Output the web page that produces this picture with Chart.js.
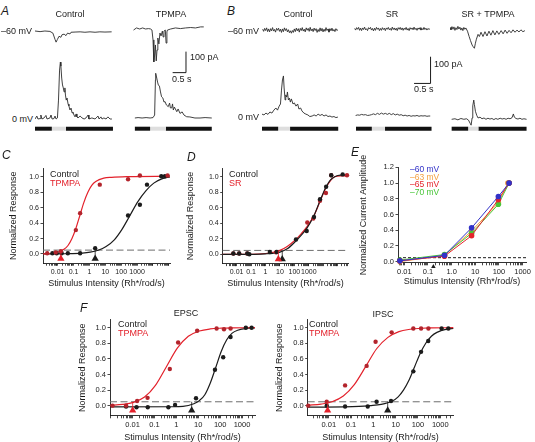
<!DOCTYPE html>
<html>
<head>
<meta charset="utf-8">
<title>Light responses and intensity-response curves</title>
<script src="https://cdn.jsdelivr.net/npm/chart.js@4.4.1/dist/chart.umd.min.js"></script>
<style>
  html, body { margin: 0; padding: 0; background: #fff; }
  body { position: relative; width: 535px; height: 442px; overflow: hidden;
         font-family: "Liberation Sans", Arial, Helvetica, sans-serif; color: #1b1b1b; }
  canvas { position: absolute; }
  .lbl { position: absolute; white-space: nowrap; font-size: 9px; line-height: 10px; }
  .mid { transform: translateX(-50%); }
  .letter { font-style: italic; font-size: 12px; line-height: 12px; }
  .red { color: #e3212b; }
  .leg { font-size: 8.5px; line-height: 8px; }
</style>
</head>
<body>
<canvas id="aCtrl"></canvas>
<canvas id="aTpmpa"></canvas>
<canvas id="bCtrl"></canvas>
<canvas id="bSr"></canvas>
<canvas id="bSrTp"></canvas>
<canvas id="cPlot"></canvas>
<canvas id="dPlot"></canvas>
<canvas id="ePlot"></canvas>
<canvas id="fEpsc"></canvas>
<canvas id="fIpsc"></canvas>

<div class="lbl letter" style="left:1px;top:5px">A</div>
<div class="lbl letter" style="left:227px;top:5px">B</div>
<div class="lbl mid" style="left:70px;top:9px">Control</div>
<div class="lbl mid" style="left:171px;top:9px">TPMPA</div>
<div class="lbl mid" style="left:298px;top:9px">Control</div>
<div class="lbl mid" style="left:392px;top:9px">SR</div>
<div class="lbl mid" style="left:488px;top:9px">SR + TPMPA</div>
<div class="lbl" style="left:1px;top:26px">–60 mV</div>
<div class="lbl" style="left:12px;top:114px">0 mV</div>
<div class="lbl" style="left:228px;top:26px">–60 mV</div>
<div class="lbl" style="left:238px;top:112px">0 mV</div>
<div class="lbl" style="left:190px;top:52px">100 pA</div>
<div class="lbl" style="left:172px;top:74px">0.5 s</div>
<div class="lbl" style="left:434px;top:59px">100 pA</div>
<div class="lbl" style="left:414px;top:84px">0.5 s</div>

<div class="lbl letter" style="left:2px;top:149px">C</div>
<div class="lbl" style="left:50px;top:169px">Control</div>
<div class="lbl red" style="left:50px;top:178px">TPMPA</div>
<div class="lbl letter" style="left:187px;top:151px">D</div>
<div class="lbl" style="left:229px;top:169px">Control</div>
<div class="lbl red" style="left:229px;top:178px">SR</div>
<div class="lbl letter" style="left:351px;top:146px">E</div>
<div class="lbl leg" style="left:410px;top:165px;color:#3232c8">–60 mV</div>
<div class="lbl leg" style="left:410px;top:172.5px;color:#f4a040">–63 mV</div>
<div class="lbl leg" style="left:410px;top:180px;color:#e5232b">–65 mV</div>
<div class="lbl leg" style="left:410px;top:187.5px;color:#48c538">–70 mV</div>

<div class="lbl letter" style="left:80px;top:302px">F</div>
<div class="lbl mid" style="left:186px;top:308px">EPSC</div>
<div class="lbl mid" style="left:383px;top:309px">IPSC</div>
<div class="lbl" style="left:118px;top:319px">Control</div>
<div class="lbl red" style="left:118px;top:328px">TPMPA</div>
<div class="lbl" style="left:309px;top:319px">Control</div>
<div class="lbl red" style="left:309px;top:328px">TPMPA</div>

<script>
// ---- A: light responses, time (s) vs baseline-subtracted current (pA)
const aCtrlHoldT = [0, 0.19, 0.37, 0.56, 0.67, 0.75, 0.79, 0.84, 0.9, 0.97, 1.01, 1.09, 1.16, 1.22, 1.31, 1.35, 1.5, 1.69, 1.87, 2.06, 2.25, 2.43, 2.62, 2.87];
const aCtrlHoldI = [0, -3, 0, -2, -10, -40, -53, -40, -25, -30, -18, -15, -22, -10, -14, -6, -5, -4, -6, -4, -6, -4, -5, -4];
const aCtrlZeroT = [0, 0.07, 0.11, 0.19, 0.22, 0.26, 0.34, 0.41, 0.45, 0.56, 0.6, 0.64, 0.71, 0.75, 0.79, 0.84, 0.88, 0.92, 0.95, 0.97,
  1.0, 1.03, 1.06, 1.09, 1.12, 1.14, 1.17, 1.2, 1.24, 1.27, 1.31, 1.35, 1.39, 1.42, 1.46, 1.5, 1.54, 1.57, 1.61, 1.69,
  1.76, 1.84, 1.91, 1.99, 2.02, 2.13, 2.25, 2.36, 2.4, 2.47, 2.51, 2.58, 2.66, 2.73, 2.81, 2.88];
const aCtrlZeroI = [0, 14, 0, 2, 19, 0, 5, 17, 0, 5, 19, 0, 2, 14, 0, 5, 90, 233, 271, 252,
  195, 162, 148, 129, 148, 114, 90, 100, 71, 62, 43, 52, 29, 33, 19, 10, 24, 10, 5, 14,
  5, 0, 5, 19, 0, 5, 0, 14, 0, 10, 0, 5, 0, 10, 0, 0];
const aTpHoldT = [0.02, 0.13, 0.25, 0.36, 0.47, 0.58, 0.66, 0.71, 0.75, 0.78, 0.81, 0.84, 0.87, 0.9, 0.93, 0.97, 1.01, 1.05, 1.1, 1.13,
  1.16, 1.21, 1.24, 1.27, 1.29, 1.41, 1.59, 1.78, 1.97, 2.16, 2.34, 2.53, 2.65];
const aTpHoldI = [-5, 5, 0, 5, 0, 2, 0, -5, -52, -157, -124, -76, -152, -100, -43, -71, -19, -33, -10, -38,
  -10, -5, -67, -14, -5, 0, 5, 2, 5, 7, 5, 10, 10];
const aTpZeroT = [0.07, 0.19, 0.34, 0.49, 0.64, 0.75, 0.81, 0.84, 0.85, 0.89, 0.92, 0.95, 0.99, 1.03, 1.07, 1.12, 1.16, 1.2, 1.25, 1.32,
  1.37, 1.4, 1.45, 1.48, 1.51, 1.55, 1.64, 1.69, 1.76, 1.84, 1.91, 2.01, 2.13, 2.32, 2.51, 2.7, 2.95];
const aTpZeroI = [0, 2, 0, 2, 0, 2, 14, 181, 213, 190, 171, 157, 152, 124, 101, 95, 76, 78, 62, 54,
  71, 48, 48, 67, 38, 52, 30, 43, 22, 29, 14, 6, 5, 0, 0, 2, 0];

// ---- B: light responses
const bHoldT = [0.02, 0.05, 0.08, 0.11, 0.14, 0.17, 0.2, 0.23, 0.26, 0.29, 0.32, 0.35, 0.38, 0.41, 0.44, 0.47, 0.5, 0.53, 0.56, 0.59,
  0.62, 0.65, 0.68, 0.71, 0.74, 0.77, 0.8, 0.83, 0.86, 0.89, 0.92, 0.95, 0.98, 1.01, 1.04, 1.07, 1.1, 1.13, 1.16, 1.19,
  1.22, 1.25, 1.28, 1.31, 1.34, 1.37, 1.4, 1.43, 1.46, 1.49, 1.52, 1.55, 1.58, 1.61, 1.64, 1.67, 1.7, 1.73, 1.76, 1.79,
  1.82, 1.85, 1.88, 1.91, 1.94, 1.97, 2.0, 2.03, 2.06, 2.09, 2.12, 2.15, 2.18, 2.21, 2.24, 2.27, 2.3];
const bCtrlHoldI = [3, -5, 6, -2, 8, -6, 4, -7, 5, -3, 9, -4, 2, -8, 6, -1, 7, -5, 3, -9,
  4, -6, 8, -2, 5, -7, 1, -10, -3, -12, -2, -9, 4, -6, 7, -3, 5, -8, 6, -2,
  9, -4, 3, -7, 8, -1, 6, -5, 10, -3, 4, -6, 7, -2, 5, -9, 2, -6, 8, -4,
  6, -7, 3, -5, 9, -2, 4, -8, 5, -3, 7, -4, 2, -6, 5, -2, 1];
const bSrHoldI = [2, -4, 5, -1, 6, -5, 3, -6, 4, -2, 7, -3, 1, -6, 5, 0, 6, -4, 2, -7,
  3, -5, 6, -1, 4, -6, 2, -5, 5, -2, 3, -6, 4, -1, 6, -3, 2, -5, 7, -2,
  4, -4, 3, -6, 5, -1, 6, -3, 4, -5, 3, -2, 6, -4, 2, -6, 5, -1, 4, -3,
  7, -2, 3, -5, 4, -1, 5, -4, 2, -3, 6, -2, 3, -4, 2, -1, 0];
const bSrTpHoldT = [0, 0.03, 0.06, 0.09, 0.12, 0.15, 0.18, 0.21, 0.24, 0.27, 0.3, 0.33, 0.36, 0.39, 0.42, 0.45, 0.48,
  0.53, 0.58, 0.62, 0.67, 0.7, 0.74, 0.77, 0.8, 0.85, 0.89, 0.94,
  1.0, 1.06, 1.12, 1.18, 1.24, 1.3, 1.36, 1.42, 1.48, 1.55, 1.61, 1.67, 1.73, 1.79, 1.85, 1.91, 1.97, 2.03, 2.09, 2.15, 2.21, 2.27];
const bSrTpHoldI = [4, -5, 7, -3, 6, -7, 3, -4, 8, -2, 5, -6, 2, -8, 4, -3, 2,
  -10, -30, -45, -62, -68, -74, -55, -40, -22, -30, -14,
  -30, -12, -28, -10, -25, -8, -24, -9, -22, -8, -20, -6, -18, -7, -16, -5, -14, -6, -13, -5, -12, -8];
const bCtrlZeroT = [0, 0.06, 0.12, 0.18, 0.24, 0.3, 0.36, 0.42, 0.47, 0.52, 0.56, 0.59, 0.62, 0.65, 0.67, 0.7, 0.72, 0.75, 0.77, 0.8,
  0.83, 0.86, 0.89, 0.94, 0.98, 1.03, 1.08, 1.12, 1.17, 1.21, 1.27, 1.33, 1.39, 1.45, 1.52, 1.58, 1.64, 1.7, 1.76, 1.82,
  1.88, 1.94, 2.0, 2.06, 2.12, 2.18, 2.24, 2.3];
const bCtrlZeroI = [7, 4, 11, 6, 15, 11, 22, 30, 22, 37, 45, 97, 135, 150, 105, 60, 79, 71, 90, 60,
  67, 52, 64, 45, 49, 37, 45, 26, 30, 19, 11, 7, 4, -2, 0, 4, 0, 7, 2, 6,
  0, 4, -2, 0, -4, -2, -6, -4];
const bSrZeroT = [0.05, 0.11, 0.17, 0.23, 0.29, 0.35, 0.41, 0.47, 0.53, 0.59, 0.65, 0.71, 0.77, 0.83, 0.89, 0.95, 1.01, 1.07, 1.13, 1.19,
  1.25, 1.31, 1.37, 1.43, 1.49, 1.55, 1.61, 1.67, 1.73, 1.79, 1.85, 1.91, 1.97, 2.03, 2.09, 2.15, 2.21, 2.27, 2.31];
const bSrZeroI = [2, 4, 3, 6, 4, 5, 2, 3, 5, 8, 5, 10, 6, 11, 7, 10, 6, 10, 5, 9,
  4, 7, 3, 5, 1, 3, 0, 2, -1, 1, 0, 2, -1, 1, 0, 1, -1, 0, 0];
const bSrTpZeroT = [0.05, 0.15, 0.24, 0.33, 0.42, 0.5, 0.56, 0.61, 0.64, 0.67, 0.69, 0.72, 0.74, 0.77, 0.81, 0.85, 0.91, 0.97, 1.03, 1.09,
  1.15, 1.21, 1.27, 1.33, 1.39, 1.45, 1.52, 1.58, 1.64, 1.7, 1.76, 1.82, 1.88, 1.92, 1.95, 2.0, 2.06, 2.12, 2.18, 2.24, 2.32];
const bSrTpZeroI = [0, 2, -2, 3, 0, 2, -3, -15, -22, 5, 50, 72, 55, 30, 15, 5, 8, 2, 5, 0,
  4, 1, 3, -1, 3, 0, 4, 1, 3, 0, 4, 2, 6, 20, 8, 3, 1, 4, 0, 2, 0];

// light step: [trace start, light on, light off, trace end] (s)
const stimACtrl = [0, 0.63, 1.16, 2.92];
const stimATp = [0.07, 0.64, 1.23, 2.95];
const stimBCtrl = [0, 0.49, 0.85, 2.31];
const stimBSr = [0.06, 0.54, 0.94, 2.35];
const stimBSrTp = [0.05, 0.55, 0.86, 2.32];
// scale bars: corner [s, pA] and lengths [0.5 s, 100 pA]
const barA = [1.985, 216];
const barB = [2.32, 122];
const barLen = [0.5, 100];

// ---- intensity axes
const majorTicks = [0.01, 0.1, 1, 10, 100, 1000];
const tickLabels = ['0.01', '0.1', '1', '10', '100', '1000'];
const eTickLabels = ['0.01', '0.1', '1.0', '10', '100', '1000'];
const respTicks = [0, 0.2, 0.4, 0.6, 0.8, 1.0];
const ampTicks = [0, 0.2, 0.4, 0.6, 0.8, 1.0, 1.2];
const threshold = 0.05;

// ---- C
const cCtrlX = [0.0047, 0.0087, 0.018, 0.044, 0.26, 2.3, 270, 1500, 4200, 33000, 56000];
const cCtrlY = [0.01, 0.01, 0.01, 0.01, 0.01, 0.074, 0.5, 0.64, 0.9, 1.01, 1.01];
const cTpX = [0.0022, 0.0076, 0.016, 0.14, 0.26, 4.5, 270, 1500, 83000];
const cTpY = [0.01, 0.02, 0.035, 0.31, 0.53, 0.9, 0.97, 1.02, 1.02];
const cCtrlFitX = [0.0012, 0.032, 0.355, 1.12, 3.55, 11.2, 35.5, 112, 355, 1120, 3550, 11200, 35500, 117000];
const cCtrlFitY = [0, 0.003, 0.011, 0.023, 0.048, 0.096, 0.18, 0.32, 0.5, 0.68, 0.82, 0.92, 0.975, 1.0];
const cTpFitX = [0.0012, 0.0025, 0.008, 0.025, 0.045, 0.08, 0.14, 0.25, 0.45, 0.8, 1.4, 2.5, 8, 25, 300, 117000];
const cTpFitY = [0, 0.004, 0.016, 0.06, 0.11, 0.2, 0.33, 0.5, 0.67, 0.8, 0.89, 0.94, 0.984, 0.996, 1.005, 1.01];
const cThr = [2.3, 0.016];   // control, TPMPA

// ---- D
const dCtrlX = [0.0059, 0.015, 0.055, 0.076, 2.0, 6.0, 130, 720, 2300, 6000, 16000, 36000, 224000];
const dCtrlY = [0.01, 0.01, 0.01, 0.0, 0.03, 0.03, 0.19, 0.3, 0.48, 0.71, 0.87, 1.02, 1.03];
const dSrX = [0.0059, 0.015, 0.055, 5.3, 790, 2050, 6000, 15500, 36000, 447000];
const dSrY = [0.01, 0.01, 0.01, 0.025, 0.41, 0.46, 0.69, 0.79, 1.02, 1.02];
const dFitX = [0.00107, 0.1, 1, 3.2, 10, 32, 126, 316, 710, 2300, 6000, 16000, 32000, 63000, 160000, 550000];
const dCtrlFitY = [0, 0, 0.006, 0.012, 0.028, 0.07, 0.17, 0.25, 0.33, 0.5, 0.69, 0.87, 0.96, 1.0, 1.02, 1.02];
const dSrFitY = [0, 0, 0.01, 0.025, 0.05, 0.1, 0.19, 0.27, 0.35, 0.5, 0.68, 0.86, 0.95, 1.0, 1.01, 1.01];
const dThr = [14.5, 7.8];

// ---- E
const eX = [0.0065, 0.5, 7, 95, 270];
const eX63 = [0.0065, 0.5, 7, 95, 240];
const e60 = [0.01, 0.08, 0.43, 0.83, 1.0];
const e63 = [0.0, 0.08, 0.39, 0.75, 1.0];
const e65 = [0.01, 0.07, 0.33, 0.79, 1.0];
const e70 = [0.02, 0.09, 0.36, 0.73, 1.0];
const eThr = 0.17;

// ---- F EPSC
const feCtrlX = [0.005, 0.015, 0.049, 0.43, 0.87, 7.9, 58, 138, 300, 1500, 2750];
const feCtrlY = [-0.01, -0.02, -0.02, -0.02, 0.01, 0.095, 0.46, 0.62, 0.88, 1.0, 1.0];
const feTpX = [0.0012, 0.005, 0.016, 0.048, 0.5, 1.2, 8.9, 69, 150, 300];
const feTpY = [0.0, 0.0, 0.06, 0.1, 0.47, 0.81, 0.96, 0.99, 0.98, 0.99];
const feCtrlFitX = [0.00092, 0.63, 2.0, 6.3, 11.2, 20, 35.5, 63, 112, 200, 355, 630, 2000, 3900];
const feCtrlFitY = [-0.015, -0.014, -0.01, 0.025, 0.065, 0.14, 0.29, 0.49, 0.695, 0.845, 0.93, 0.968, 0.994, 0.998];
const feTpFitX = [0.00092, 0.0035, 0.011, 0.035, 0.11, 0.35, 1.12, 3.5, 11.2, 35, 112, 350, 3900];
const feTpFitY = [0.005, 0.016, 0.043, 0.11, 0.26, 0.5, 0.74, 0.89, 0.957, 0.984, 0.994, 0.998, 1.0];
const feThr = [5, 0.01];

// ---- F IPSC
const fiCtrlX = [0.0081, 0.054, 0.56, 1.4, 6.2, 62, 138, 290, 1150, 2300];
const fiCtrlY = [0.0, -0.01, -0.01, 0.05, 0.06, 0.44, 0.69, 0.83, 0.99, 0.99];
const fiTpX = [0.0012, 0.0081, 0.054, 0.5, 1.26, 6.6, 62, 138, 295];
const fiTpY = [0.0, 0.05, 0.26, 0.51, 0.82, 0.94, 0.99, 0.99, 0.99];
const fiCtrlFitX = [0.00114, 0.224, 0.71, 2.24, 7.1, 12.6, 22.4, 40, 71, 126, 224, 400, 710, 2240, 3850];
const fiCtrlFitY = [-0.02, -0.01, 0.0, 0.016, 0.06, 0.11, 0.2, 0.33, 0.5, 0.67, 0.8, 0.89, 0.94, 0.984, 0.99];
const fiTpFitX = [0.00115, 0.0045, 0.014, 0.045, 0.14, 0.45, 1.4, 4.5, 14, 45, 140, 450, 3850];
const fiTpFitY = [0.006, 0.02, 0.05, 0.124, 0.27, 0.5, 0.73, 0.876, 0.95, 0.98, 0.993, 0.997, 1.0];
const fiThr = [4.4, 0.0089];

const INK = '#1b1b1b', TRACE = '#2b2b2b', RED = '#e3212b', RED_DOT = '#b3242c', DASH = '#6e6e6e';
Chart.defaults.font.family = '"Liberation Sans", Arial, sans-serif';
Chart.defaults.color = INK;

function pts(xs, ys) { return xs.map((x, i) => ({ x: x, y: ys[i] })); }

function lineSet(data, color, width, extra) {
  return Object.assign({ data: data, borderColor: color, backgroundColor: color, borderWidth: width,
    pointRadius: 0, tension: 0, clip: false }, extra || {});
}
function dotSet(data, color, r, extra) {
  return Object.assign({ data: data, showLine: false, pointRadius: r, pointBackgroundColor: color,
    pointBorderWidth: 0, borderColor: color, clip: false }, extra || {});
}
function fitSet(data, color) {
  return lineSet(data, color, 1.2, { cubicInterpolationMode: 'monotone' });
}
// threshold marker: triangle below the axis with a thin stem up to the dashed line
function thrSets(x, color) {
  return [
    dotSet([{ x: x, y: -0.062 }], color, 4.2, { pointStyle: 'triangle' }),
    lineSet([{ x: x, y: -0.05 }, { x: x, y: threshold }], color, 0.8)
  ];
}

function logTicks(min, max) {
  const t = [];
  for (let e = Math.floor(Math.log10(min)); e <= Math.ceil(Math.log10(max)); e++) {
    for (let m = 1; m < 10; m++) {
      const v = m * Math.pow(10, e);
      if (v >= min && v <= max) t.push({ value: v });
    }
  }
  return t;
}
function labelFor(v, labels) {
  const i = majorTicks.findIndex(m => Math.abs(Math.log10(v / m)) < 1e-6);
  return i < 0 ? '' : labels[i];
}

function placeCanvas(id, box) {
  const cv = document.getElementById(id);
  cv.width = box.w; cv.height = box.h;
  cv.style.left = box.x + 'px'; cv.style.top = box.y + 'px';
  return cv;
}

// axes-drawn intensity plot; area = chart area in page pixels
function intensityPlot(p) {
  const cv = placeCanvas(p.id, p.box);
  const xMin = Math.pow(10, p.logRange[0]), xMax = Math.pow(10, p.logRange[1]);
  const tickFont = { size: p.tickSize || 7 };
  const datasets = p.sets.concat([
    lineSet([{ x: xMin, y: threshold }, { x: xMax, y: threshold }], p.dashColor || DASH, 1,
      { borderDash: p.dash || [7, 3.5] })
  ]);
  return new Chart(cv, {
    type: 'line',
    data: { datasets: datasets },
    options: {
      responsive: false, animation: false, devicePixelRatio: 1,
      layout: { padding: { left: 0, bottom: 0, top: p.area.t - p.box.y, right: p.box.x + p.box.w - p.area.r } },
      plugins: { legend: { display: false }, tooltip: { enabled: false } },
      scales: {
        x: {
          type: 'logarithmic', min: xMin, max: xMax,
          afterBuildTicks: s => { s.ticks = logTicks(xMin, xMax); },
          afterFit: s => { s.height = p.box.y + p.box.h - p.area.b; },
          border: { color: INK, width: 0.9 },
          grid: { drawOnChartArea: false, color: INK, tickLength: 2.5, tickWidth: 0.8 },
          ticks: { autoSkip: false, maxRotation: 0, padding: 2, font: tickFont, color: INK,
            callback: v => labelFor(v, p.labels || tickLabels) },
          title: { display: true, text: 'Stimulus Intensity (Rh*/rod/s)', color: INK, font: { size: 9 },
            padding: { top: 0, bottom: p.box.y + p.box.h - 5.4 - p.xTitleY } }
        },
        y: {
          min: p.yRange[0], max: p.yRange[1],
          afterBuildTicks: s => { s.ticks = p.yTicks.map(v => ({ value: v })); },
          afterFit: s => { s.width = p.area.l - p.box.x; },
          border: { color: INK, width: 0.9 },
          grid: { drawOnChartArea: false, color: INK, tickLength: 2.5, tickWidth: 0.8 },
          ticks: { padding: 1.5, font: tickFont, color: INK, callback: v => v.toFixed(1) },
          title: { display: true, text: p.yTitle, color: INK, font: { size: 9 },
            padding: { top: p.yTitleX - p.box.x - 5.4, bottom: 0 } }
        }
      }
    }
  });
}

// one column of current traces; bases are page-y of the two baselines
const TRACE_H = 140, STIM_Y = 128.7;
function traceColumn(id, left, width, pxPerSec, pxPerPA, holdBase, zeroBase, hold, zero, stim, bar) {
  const cv = placeCanvas(id, { x: left, y: 0, w: width, h: TRACE_H });
  const range = base => ({ display: false, min: -(TRACE_H - base) / pxPerPA, max: base / pxPerPA });
  const lvl = (zeroBase - STIM_Y) / pxPerPA;
  const stimSet = (a, b, color) => lineSet([{ x: a, y: lvl }, { x: b, y: lvl }], color, 4,
    { yAxisID: 'yZero', borderCapStyle: 'butt' });
  const ds = [
    lineSet(hold, TRACE, 0.9, { yAxisID: 'yHold' }),
    lineSet(zero, TRACE, 0.9, { yAxisID: 'yZero' }),
    stimSet(stim[0], stim[1], '#111'),
    stimSet(stim[1], stim[2], '#dedede'),
    stimSet(stim[2], stim[3], '#111')
  ];
  if (bar) {
    ds.push(lineSet([{ x: bar[0] - barLen[0], y: bar[1] }, { x: bar[0], y: bar[1] },
      { x: bar[0], y: bar[1] + barLen[1] }], INK, 1, { yAxisID: 'yZero' }));
  }
  return new Chart(cv, {
    type: 'line',
    data: { datasets: ds },
    options: {
      responsive: false, animation: false, devicePixelRatio: 1,
      layout: { padding: 0 },
      plugins: { legend: { display: false }, tooltip: { enabled: false } },
      scales: {
        x: { type: 'linear', display: false, min: 0, max: width / pxPerSec },
        yHold: range(holdBase),
        yZero: range(zeroBase)
      }
    }
  });
}

// A: 26.7 px/s, 0.21 px/pA ; B: 33 px/s, 0.267 px/pA
traceColumn('aCtrl', 35, 79, 26.7, 0.21, 31, 119, pts(aCtrlHoldT, aCtrlHoldI), pts(aCtrlZeroT, aCtrlZeroI), stimACtrl);
traceColumn('aTpmpa', 133, 80, 26.7, 0.21, 29, 118, pts(aTpHoldT, aTpHoldI), pts(aTpZeroT, aTpZeroI), stimATp, barA);
traceColumn('bCtrl', 262, 77, 33, 0.267, 30, 116, pts(bHoldT, bCtrlHoldI), pts(bCtrlZeroT, bCtrlZeroI), stimBCtrl);
traceColumn('bSr', 354, 78, 33, 0.267, 29, 116, pts(bHoldT, bSrHoldI), pts(bSrZeroT, bSrZeroI), stimBSr, barB);
traceColumn('bSrTp', 450, 78, 33, 0.267, 28.5, 119.3, pts(bSrTpHoldT, bSrTpHoldI), pts(bSrTpZeroT, bSrTpZeroI), stimBSrTp);

intensityPlot({
  id: 'cPlot', box: { x: 0, y: 150, w: 180, h: 145 }, area: { l: 43, t: 168.5, r: 170, b: 263.2 },
  logRange: [-2.92, 5.07], yRange: [-0.12, 1.11], yTicks: respTicks,
  yTitle: 'Normalized Response', yTitleX: 13.3, xTitleY: 284,
  sets: [].concat(thrSets(cThr[1], RED), thrSets(cThr[0], INK), [
    dotSet(pts(cTpX, cTpY), RED_DOT, 2.2),
    dotSet(pts(cCtrlX, cCtrlY), INK, 2.2),
    fitSet(pts(cTpFitX, cTpFitY), RED),
    fitSet(pts(cCtrlFitX, cCtrlFitY), INK)
  ])
});

intensityPlot({
  id: 'dPlot', box: { x: 178, y: 150, w: 176, h: 145 }, area: { l: 222.7, t: 168.2, r: 348.3, b: 263.6 },
  logRange: [-2.966, 5.74], yRange: [-0.12, 1.11], yTicks: respTicks,
  yTitle: 'Normalized Response', yTitleX: 191, xTitleY: 284,
  sets: [].concat(thrSets(dThr[1], RED), thrSets(dThr[0], INK), [
    dotSet(pts(dCtrlX, dCtrlY), INK, 2.2),
    dotSet(pts(dSrX, dSrY), RED_DOT, 2.2),
    fitSet(pts(dFitX, dCtrlFitY), INK),
    fitSet(pts(dFitX, dSrFitY), RED)
  ])
});

const eLine = (xs, ys, color) => lineSet(pts(xs, ys), color, 1,
  { pointRadius: 2.8, pointBackgroundColor: color, pointBorderWidth: 0 });
intensityPlot({
  id: 'ePlot', box: { x: 350, y: 150, w: 185, h: 140 }, area: { l: 398, t: 167.4, r: 526, b: 262.8 },
  logRange: [-2.266, 3.146], yRange: [-0.015, 1.2], yTicks: ampTicks, labels: eTickLabels, tickSize: 7.5,
  yTitle: 'Normalized Current Amplitude', yTitleX: 363.3, xTitleY: 282,
  dash: [3, 2], dashColor: INK,
  sets: [
    dotSet([{ x: eThr, y: -0.064 }], INK, 2.6, { pointStyle: 'triangle' }),
    eLine(eX, e60, '#3232c8'),
    eLine(eX, e65, '#e5232b'),
    eLine(eX, e70, '#48c538'),
    eLine(eX63, e63, '#f4a040')
  ]
});

intensityPlot({
  id: 'fEpsc', box: { x: 70, y: 300, w: 190, h: 144 }, area: { l: 110, t: 319.9, r: 255, b: 415.8 },
  logRange: [-3.036, 3.594], yRange: [-0.13, 1.1], yTicks: respTicks, tickSize: 7.5,
  yTitle: 'Normalized Response', yTitleX: 82.7, xTitleY: 437.7,
  sets: [].concat(thrSets(feThr[1], RED), thrSets(feThr[0], INK), [
    dotSet(pts(feTpX, feTpY), RED_DOT, 2.2),
    dotSet(pts(feCtrlX, feCtrlY), INK, 2.2),
    fitSet(pts(feTpFitX, feTpFitY), RED),
    fitSet(pts(feCtrlFitX, feCtrlFitY), INK)
  ])
});

intensityPlot({
  id: 'fIpsc', box: { x: 265, y: 300, w: 200, h: 144 }, area: { l: 307.7, t: 319.9, r: 453.3, b: 415.8 },
  logRange: [-2.944, 3.585], yRange: [-0.13, 1.1], yTicks: respTicks, tickSize: 7.5,
  yTitle: 'Normalized Response', yTitleX: 280, xTitleY: 437.7,
  sets: [].concat(thrSets(fiThr[1], RED), thrSets(fiThr[0], INK), [
    dotSet(pts(fiTpX, fiTpY), RED_DOT, 2.2),
    dotSet(pts(fiCtrlX, fiCtrlY), INK, 2.2),
    fitSet(pts(fiTpFitX, fiTpFitY), RED),
    fitSet(pts(fiCtrlFitX, fiCtrlFitY), INK)
  ])
});
</script>
</body>
</html>
